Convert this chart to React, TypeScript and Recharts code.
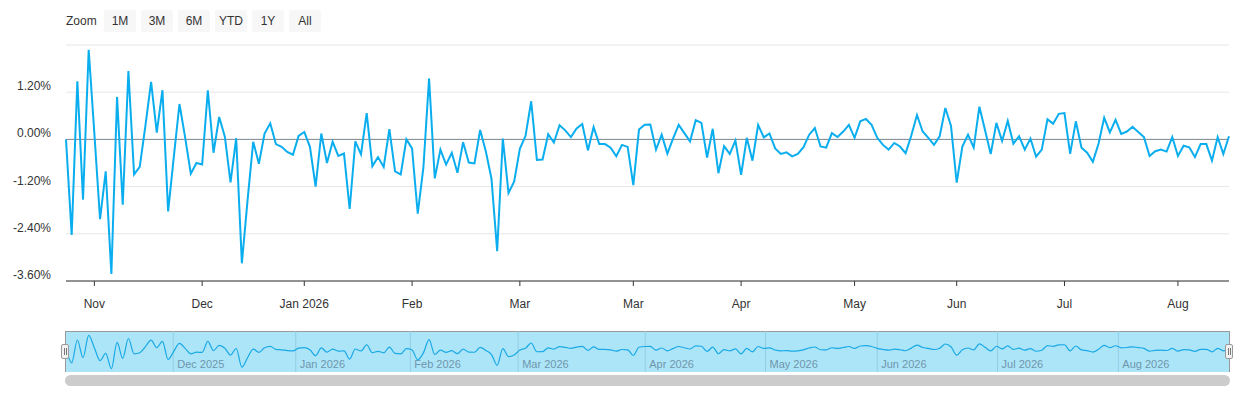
import { LineChart, Line, XAxis, YAxis, CartesianGrid, ReferenceLine } from "recharts";

// daily returns (%)
const returns = [
  0.0, -2.43, 1.48, -1.53, 2.28, 0.15, -2.03, -0.81, -3.42, 1.08,
  -1.66, 1.74, -0.89, -0.7, 0.35, 1.46, 0.17, 1.25, -1.83, -0.45,
  0.9, 0.05, -0.87, -0.6, -0.64, 1.25, -0.34, 0.57, 0.07, -1.09,
  0.03, -3.15, -1.55, -0.06, -0.62, 0.15, 0.41, -0.12, -0.19, -0.32,
  -0.39, 0.09, 0.19, -0.19, -1.2, 0.15, -0.6, -0.06, -0.42, -0.36,
  -1.77, -0.05, -0.38, 0.67, -0.68, -0.45, -0.7, 0.26, -0.81, -0.89,
  0.0, -0.23, -1.89,
  -0.71, 1.55, -0.99, -0.26, -0.64, -0.34, -0.85, -0.07, -0.59, -0.61,
  0.24, -0.3, -1.0, -2.84, 0.02, -1.36, -1.07, -0.24, 0.09, 0.97,
  -0.52, -0.51, 0.13, -0.08, 0.36, 0.23, 0.06, 0.28, 0.39, -0.28,
  0.31, -0.12, -0.12, -0.21, -0.43, -0.14, -0.19, -1.16, 0.25, 0.37,
  0.38, -0.26, 0.12, -0.36, 0.02, 0.37, 0.16, -0.05, 0.49, 0.42,
  -0.46, 0.27, -0.86, -0.17, -0.37, -0.03, -0.9, 0.04, -0.54, 0.37,
  0.05, 0.15, -0.23, -0.37, -0.33, -0.43, -0.37, -0.2, 0.12, 0.29,
  -0.18,
  -0.21, 0.16, 0.06, 0.2, 0.37, 0.04, 0.46, 0.52, 0.37, 0.04,
  -0.14, -0.26, -0.09, -0.18, -0.35, 0.1, 0.62, 0.2, 0.04, -0.14,
  0.08, 0.8, 0.34, -1.1, -0.18, 0.12, -0.21, 0.83, 0.23, -0.37,
  0.42, -0.04, 0.47, -0.11, 0.08, -0.26, 0.02, -0.44, -0.26, 0.51,
  0.4, 0.65, 0.67, -0.37, 0.46, -0.21, -0.34, -0.57, -0.11, 0.55,
  0.18, 0.5, 0.14, 0.2, 0.32, 0.19, 0.06, -0.42, -0.3, -0.26,
  -0.31, 0.06, -0.42, -0.16, -0.2, -0.45, -0.12, -0.12, -0.54, 0.06,
  -0.37, 0.08,
];

const yTicks = [-3.6, -2.4, -1.2, 0, 1.2, 2.4];

// main x axis (ordinal: point index -> label)
const xTickIdx = [5, 24, 42, 61, 80, 100, 119, 139, 157, 176, 196];
const xTickLabels = ["Nov", "Dec", "Jan 2026", "Feb", "Mar", "Mar", "Apr", "May", "Jun", "Jul", "Aug"];

// navigator month separators
const navTickIdx = [18.9, 40.5, 60.7, 79.7, 102.1, 123.3, 143.0, 164.2, 185.5];
const navTickLabels = [
  "Dec 2025", "Jan 2026", "Feb 2026", "Mar 2026", "Apr 2026",
  "May 2026", "Jun 2026", "Jul 2026", "Aug 2026",
];

const zoomButtons = ["1M", "3M", "6M", "YTD", "1Y", "All"];

const data = returns.map((v, i) => ({ i, v }));

const FONT = '"Liberation Sans", Arial, Helvetica, sans-serif';
const LINE = "#0aaeef";

function YTick({ y, payload }: any) {
  if (payload.value === 2.4) return <g />;
  return (
    <text x={51} y={y - 2} textAnchor="end" fontSize={12} fill="#333" fontFamily={FONT}>
      {payload.value.toFixed(2)}%
    </text>
  );
}

function XTick({ x, payload }: any) {
  const k = xTickIdx.indexOf(payload.value);
  return (
    <text x={x} y={308} textAnchor="middle" fontSize={12} fill="#333" fontFamily={FONT}>
      {xTickLabels[k]}
    </text>
  );
}

function NavLabel({ viewBox, text }: any) {
  const x = viewBox?.x ?? 0;
  return (
    <text x={x + 4} y={36.5} fontSize={11} fill="#6f95ad" fontFamily={FONT}>
      {text}
    </text>
  );
}

function Handle({ left }: { left: number }) {
  return (
    <div
      style={{
        position: "absolute",
        left,
        top: 344,
        width: 8,
        height: 15,
        boxSizing: "border-box",
        background: "#f2f2f2",
        border: "1px solid #999",
        borderRadius: 2,
      }}
    >
      <div style={{ position: "absolute", left: 2, top: 3, width: 1, height: 7, background: "#777" }} />
      <div style={{ position: "absolute", left: 4, top: 3, width: 1, height: 7, background: "#777" }} />
    </div>
  );
}

export default function App() {
  return (
    <div
      style={{
        position: "absolute",
        left: 0,
        top: 0,
        width: 1240,
        height: 400,
        background: "#fff",
        fontFamily: FONT,
      }}
    >
      {/* range selector */}
      <div style={{ position: "absolute", left: 66, top: 13, fontSize: 12, color: "#333", lineHeight: "16px" }}>
        Zoom
      </div>
      {zoomButtons.map((b, k) => (
        <div
          key={b}
          style={{
            position: "absolute",
            left: 104 + k * 37,
            top: 10,
            width: 32,
            height: 22,
            background: "#f7f7f7",
            borderRadius: 2,
            fontSize: 12,
            color: "#333",
            lineHeight: "23px",
            textAlign: "center",
          }}
        >
          {b}
        </div>
      ))}

      {/* main chart */}
      <div style={{ position: "absolute", left: 0, top: 0 }}>
        <LineChart width={1240} height={320} data={data} margin={{ top: 45, right: 11, bottom: 9, left: 0 }}>
          <CartesianGrid vertical={false} stroke="#e6e6e6" />
          <YAxis
            width={66}
            domain={[-3.6, 2.4]}
            ticks={yTicks}
            axisLine={false}
            tickLine={false}
            tick={YTick}
            interval={0}
          />
          <XAxis
            type="number"
            dataKey="i"
            domain={[0, returns.length - 1]}
            ticks={xTickIdx}
            interval={0}
            height={30}
            axisLine={{ stroke: "#333" }}
            tickLine={{ stroke: "#333" }}
            tickSize={5}
            tick={XTick}
          />
          <ReferenceLine y={0} stroke="#7f8991" strokeWidth={1} />
          <Line
            type="linear"
            dataKey="v"
            stroke={LINE}
            strokeWidth={2}
            dot={false}
            isAnimationActive={false}
          />
        </LineChart>
      </div>

      {/* navigator */}
      <div
        style={{
          position: "absolute",
          left: 65,
          top: 331,
          width: 1165,
          height: 41,
          boxSizing: "border-box",
          background: "#ade5f8",
          borderTop: "1px solid #999",
          borderLeft: "1px solid #999",
          borderRight: "1px solid #999",
        }}
      />
      <div style={{ position: "absolute", left: 0, top: 331 }}>
        <LineChart width={1240} height={41} data={data} margin={{ top: 0, right: 11, bottom: 0, left: 66 }}>
          <XAxis hide type="number" dataKey="i" domain={[0, returns.length - 1]} />
          <YAxis hide domain={[-3.98, 3.02]} />
          {navTickIdx.map((t, k) => (
            <ReferenceLine
              key={t}
              x={t}
              stroke="#93cde6"
              strokeWidth={1}
              label={<NavLabel text={navTickLabels[k]} />}
            />
          ))}
          <Line
            type="monotone"
            dataKey="v"
            stroke="#19a9e6"
            strokeWidth={1.2}
            dot={false}
            isAnimationActive={false}
          />
        </LineChart>
      </div>
      <Handle left={61} />
      <Handle left={1225} />

      {/* scrollbar */}
      <div
        style={{
          position: "absolute",
          left: 65,
          top: 375,
          width: 1165,
          height: 11,
          background: "#cccccc",
          borderRadius: 6,
        }}
      />
    </div>
  );
}
